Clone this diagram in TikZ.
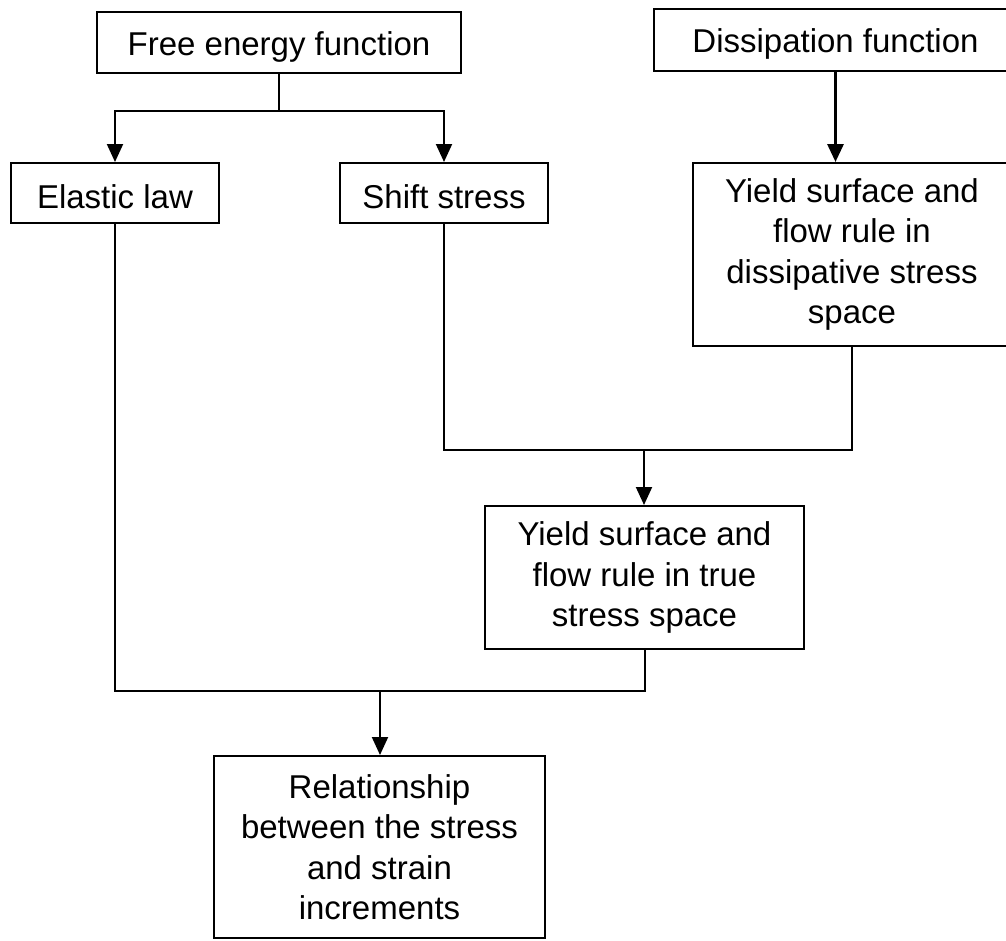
\documentclass[tikz,border=0pt]{standalone}
\usepackage{fontspec}
\setmainfont{Liberation Sans}
\usetikzlibrary{arrows.meta}
\newcommand{\lowtext}[1]{\raisebox{-4pt}[\height][\depth]{#1}}
\begin{document}
\begin{tikzpicture}[x=1pt,y=-1pt,
  box/.style={draw=black, line width=2pt, inner sep=0pt, align=center,
    font=\fontsize{33}{40.5}\selectfont},
  conn/.style={line width=2pt},
  arr/.style={line width=2pt, -{Triangle[length=18pt,width=16pt]}}]
\useasboundingbox (0,0) rectangle (1006,940);
\node[box, minimum width=364pt, minimum height=61pt] (fe) at (279,42.5) {\lowtext{Free energy function}};
\node[box, minimum width=363pt, minimum height=62pt] (dis) at (835.5,40) {\lowtext{Dissipation function}};
\node[box, minimum width=208pt, minimum height=60pt] (el) at (115,193) {\lowtext{Elastic law}};
\node[box, minimum width=208pt, minimum height=60pt] (ss) at (444,193) {\lowtext{Shift stress}};
\node[box, minimum width=318pt, minimum height=183pt] (yd) at (852,254.5) {Yield surface and\\flow rule in\\dissipative stress\\space};
\node[box, minimum width=319pt, minimum height=143pt] (yt) at (644.5,577.5) {Yield surface and\\flow rule in true\\stress space};
\node[box, minimum width=331pt, minimum height=182pt] (rel) at (379.5,847) {Relationship\\between the stress\\and strain\\increments};
\coordinate (j1) at (279,111);
\coordinate (j2) at (644,450);
\coordinate (j3) at (380,691);
\draw[conn] (fe.south) -- (j1);
\draw[arr] (j1) -| (el.north);
\draw[arr] (j1) -| (ss.north);
\draw[arr, line width=3pt] (dis.south) -- (dis.south |- yd.north);
\draw[conn] (ss.south) |- (j2) -| (yd.south);
\draw[arr] (j2) -- (j2 |- yt.north);
\draw[conn] (el.south) |- (j3) -| (yt.south);
\draw[arr] (j3) -- (j3 |- rel.north);
\end{tikzpicture}
\end{document}
